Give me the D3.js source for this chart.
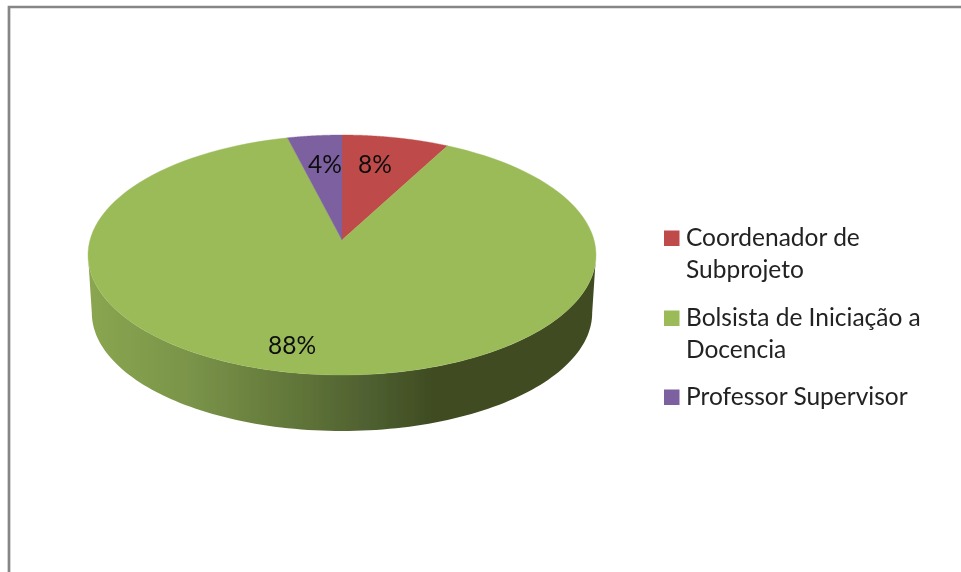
<!DOCTYPE html>
<html><head><meta charset="utf-8">
<script src="https://cdn.jsdelivr.net/npm/d3@7"></script>
<style>html,body{margin:0;padding:0;background:#fff}svg{display:block}</style></head>
<body><svg id="c" width="961" height="572"></svg>
<script>
const categories = ["Coordenador de Subprojeto", "Bolsista de Iniciação a Docencia", "Professor Supervisor"];
const legendLines = [["Coordenador de", "Subprojeto"], ["Bolsista de Iniciação a", "Docencia"], ["Professor Supervisor"]];
const shares = [7.7, 88.4, 3.9];
const colors = ["#BE4B48", "#9BBB59", "#7D60A0"];
const labelPos = [[375,167],[292,348],[325,167]];
const legendY = [238,318,397];

const svg = d3.select("#c");
const font = "Lato, Carlito, sans-serif";
const defs = svg.append("defs");
const blur = defs.append("filter").attr("id","soft").attr("x","-5%").attr("y","-5%").attr("width","110%").attr("height","110%");
blur.append("feGaussianBlur").attr("stdDeviation",0.5);

const grad = defs.append("linearGradient").attr("id","side").attr("gradientUnits","userSpaceOnUse")
  .attr("x1",88).attr("x2",596).attr("y1",0).attr("y2",0);
[[0,"#8AA650"],[0.2,"#7A9449"],[0.4,"#62773A"],[0.55,"#4F6030"],[0.68,"#3F4C22"],[1,"#3F4C22"]]
  .forEach(s=>grad.append("stop").attr("offset",s[0]).attr("stop-color",s[1]));

// frame
svg.append("path").attr("d","M9,572V7H961").attr("fill","none").attr("stroke","#868686").attr("stroke-width",2.7);

// perspective projection of the disc
const cx = 342, apexY = 240, k = 0.125, ax = 252, ay = 118.125;
const project = (t, scale=1, dy=0) => {
  const u = Math.sin(t), v = Math.cos(t), d = 1 + k*v;
  const y0 = apexY - ay*v/d;
  return [cx + scale*ax*u/d, 255 + dy + scale*(y0-255)];
};
const line = d3.line();
const arcPts = (a0,a1,scale,dy) => d3.range(0,121).map(i=>project(a0+(a1-a0)*i/120,scale,dy));

// side wall
const tR = Math.acos(-k), tL = 2*Math.PI - tR;
const s = 0.985, dy = 57.8;
svg.append("path").attr("filter","url(#soft)")
  .attr("d", line([...arcPts(tR,tL,1,0), ...arcPts(tL,tR,s,dy)])+"Z")
  .attr("fill","url(#side)");

// top face
const pie = d3.pie().sort(null).value(d=>d);
const arcs = pie(shares);
svg.append("g").attr("filter","url(#soft)").selectAll("path").data(arcs).join("path")
  .attr("d", d=>line([[cx,apexY], ...arcPts(d.startAngle,d.endAngle,1,0)])+"Z")
  .attr("fill",(d,i)=>colors[i]).attr("stroke",(d,i)=>colors[i]).attr("stroke-width",0.4);

// labels
svg.append("g").attr("filter","url(#soft)").selectAll("text").data(arcs).join("text")
  .attr("x",(d,i)=>labelPos[i][0]).attr("y",(d,i)=>labelPos[i][1])
  .attr("text-anchor","middle").attr("dominant-baseline","middle")
  .attr("font-family",font).attr("font-size",24.5).attr("fill","#111")
  .text(d=>Math.round(d.data)+"%");

// legend
const lg = svg.append("g").attr("filter","url(#soft)");
categories.forEach((c,i)=>{
  lg.append("rect").attr("x",664).attr("y",legendY[i]-7.5).attr("width",15.5).attr("height",15.5).attr("fill",colors[i]);
  const t = lg.append("text").attr("font-family",font).attr("font-size",24.5).attr("fill","#222");
  legendLines[i].forEach((l,j)=>t.append("tspan").attr("x",686).attr("y",legendY[i]+8+j*32).text(l));
});
</script></body></html>
